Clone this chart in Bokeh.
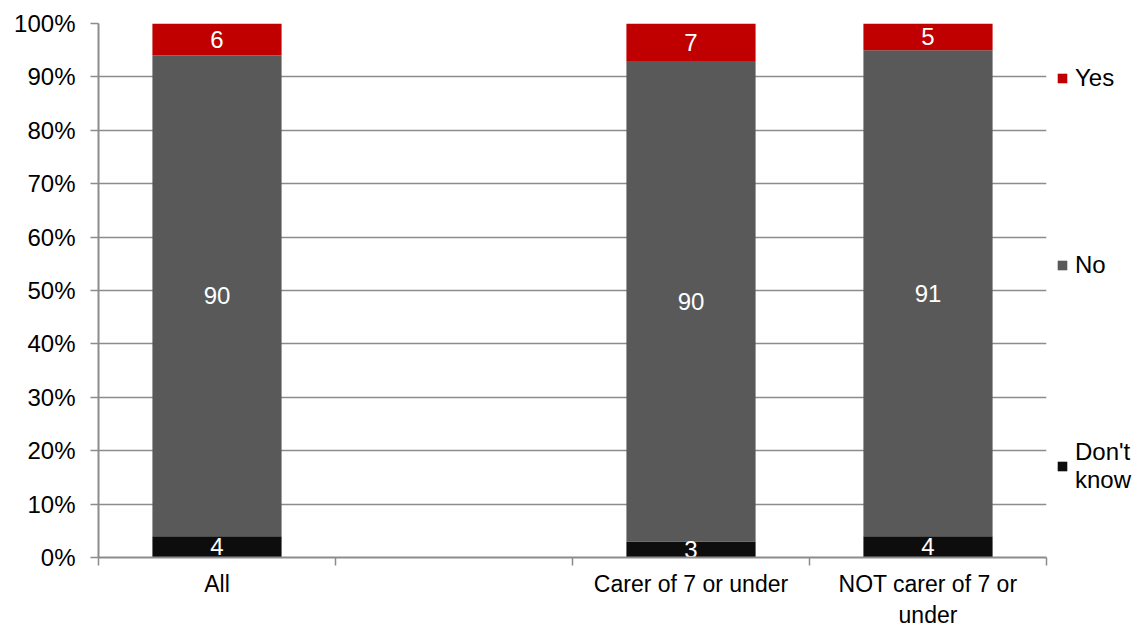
from bokeh.plotting import figure
from bokeh.models import Range1d, FixedTicker, Legend, LegendItem, ColumnDataSource
from bokeh.core.properties import value
from bokeh.embed import file_html
from bokeh.resources import INLINE

# ---- data ----
categories = ["All", "", "Carer of 7 or under", "NOT carer of 7 or\nunder"]
bar_categories = ["All", "Carer of 7 or under", "NOT carer of 7 or\nunder"]
dont_know = [4, 3, 4]
no = [90, 90, 91]
yes = [6, 7, 5]
series_names = ["Don't know", "No", "Yes"]
series_labels = ["Don't\nknow", "No", "Yes"]
series_colors = ["#0D0D0D", "#595959", "#C00000"]
y_ticks = [0, 10, 20, 30, 40, 50, 60, 70, 80, 90, 100]
y_tick_labels = ["0%", "10%", "20%", "30%", "40%", "50%", "60%", "70%", "80%", "90%", "100%"]

FONT = "Liberation Sans"
FS = "24px"
GRID = "#8C8C8C"

xpos = [categories.index(c) + 0.5 for c in bar_categories]
src = ColumnDataSource(dict(x=xpos, dk=dont_know, no=no, yes=yes))

p = figure(frame_width=948, frame_height=534, output_backend="svg", toolbar_location=None,
           x_range=Range1d(0, len(categories)), y_range=Range1d(0, 100),
           min_border_left=98, min_border_top=23, min_border_bottom=2, min_border_right=5)
p.outline_line_color = None
p.background_fill_color = "white"
p.border_fill_color = "white"

renderers = p.vbar_stack(["dk", "no", "yes"], x="x", width=0.545, source=src,
                         color=series_colors, line_color=None)

# data labels
cols = [dont_know, no, yes]
lx, ly, lt = [], [], []
for i, x in enumerate(xpos):
    base = 0
    for s in cols:
        v = s[i]
        lx.append(x)
        ly.append(base + v / 2)
        lt.append(str(v))
        base += v
p.text(x=lx, y=ly, text=lt, text_align="center", text_baseline="middle",
       text_color="white", text_font=value(FONT), text_font_size=FS)

# axes
p.xgrid.visible = False
p.ygrid.ticker = FixedTicker(ticks=y_ticks)
p.ygrid.grid_line_color = GRID
p.ygrid.grid_line_width = 1.5

p.yaxis.ticker = FixedTicker(ticks=y_ticks)
p.yaxis.major_label_overrides = {t: l for t, l in zip(y_ticks, y_tick_labels)}
p.yaxis.axis_line_color = GRID
p.yaxis.axis_line_width = 2
p.yaxis.major_tick_line_color = GRID
p.yaxis.major_tick_line_width = 1.5
p.yaxis.major_tick_out = 8
p.yaxis.major_tick_in = 0
p.yaxis.minor_tick_line_color = None
p.yaxis.major_label_text_font = FONT
p.yaxis.major_label_text_font_size = FS
p.yaxis.major_label_text_color = "black"
p.yaxis.major_label_standoff = 15

centers = [i + 0.5 for i in range(len(categories))]
bounds = [i for i in range(len(categories) + 1)]
p.xaxis.ticker = FixedTicker(ticks=centers, minor_ticks=bounds)
p.xaxis.major_label_overrides = {c: l for c, l in zip(centers, categories)}
p.xaxis.axis_line_color = GRID
p.xaxis.axis_line_width = 2
p.xaxis.major_tick_line_color = None
p.xaxis.minor_tick_line_color = GRID
p.xaxis.minor_tick_line_width = 1.5
p.xaxis.minor_tick_out = 8
p.xaxis.minor_tick_in = 0
p.xaxis.major_label_text_font = FONT
p.xaxis.major_label_text_font_size = "23px"
p.xaxis.major_label_text_color = "black"
p.xaxis.major_label_standoff = 5

items = [LegendItem(label=series_labels[i], renderers=[renderers[i]]) for i in [2, 1, 0]]
legend = Legend(items=items, location=(10, 63), orientation="vertical",
                glyph_width=12, glyph_height=12, label_standoff=7, spacing=159,
                padding=0, margin=0, border_line_color=None, background_fill_alpha=0,
                label_text_font=FONT, label_text_font_size=FS, label_text_color="black",
                label_height=28)
p.add_layout(legend, "right")

open("out.html", "w").write(file_html(p, INLINE))
